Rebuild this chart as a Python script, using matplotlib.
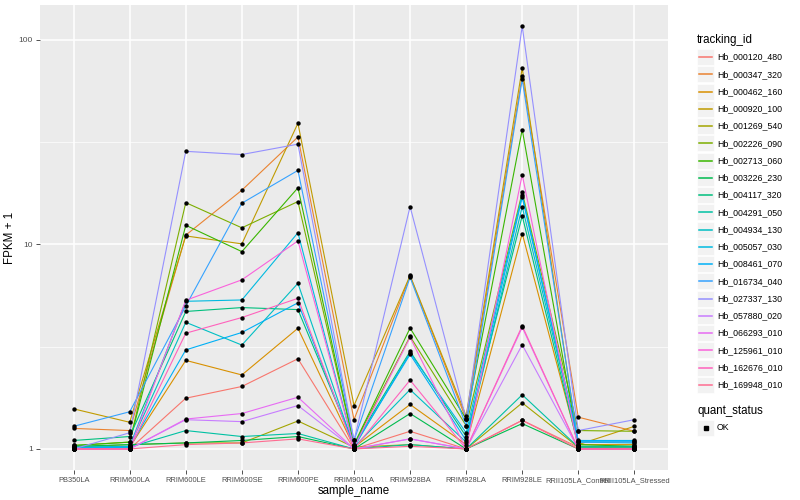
import matplotlib.pyplot as plt
from matplotlib.patches import Rectangle
from matplotlib.lines import Line2D

samples = ["PB350LA", "RRIM600LA", "RRIM600LE", "RRIM600SE", "RRIM600PE", "RRIM901LA",
           "RRIM928BA", "RRIM928LA", "RRIM928LE", "RRII105LA_Control", "RRII105LA_Stressed"]

tracking_ids = ["Hb_000120_480", "Hb_000347_320", "Hb_000462_160", "Hb_000920_100", "Hb_001269_540",
                "Hb_002226_090", "Hb_002713_060", "Hb_003226_230", "Hb_004117_320", "Hb_004291_050",
                "Hb_004934_130", "Hb_005057_030", "Hb_008461_070", "Hb_016734_040", "Hb_027337_130",
                "Hb_057880_020", "Hb_066293_010", "Hb_125961_010", "Hb_162676_010", "Hb_169948_010"]

# FPKM + 1 per gene, same order as samples
fpkm = {
    "Hb_000120_480": [1.00, 1.00, 1.77, 2.02, 2.76, 1.00, 1.22, 1.00, 1.38, 1.02, 1.02],
    "Hb_000347_320": [1.26, 1.23, 11.1, 18.4, 33.5, 1.39, 7.00, 1.40, 66.5, 1.43, 1.22],
    "Hb_000462_160": [1.00, 1.02, 2.71, 2.30, 3.89, 1.02, 1.65, 1.05, 11.3, 1.05, 1.05],
    "Hb_000920_100": [1.57, 1.35, 11.0, 10.06, 39.1, 1.63, 7.05, 1.45, 72.8, 1.05, 1.29],
    "Hb_001269_540": [1.02, 1.05, 1.07, 1.07, 1.37, 1.02, 1.05, 1.00, 1.68, 1.02, 1.02],
    "Hb_002226_090": [1.04, 1.08, 16.0, 12.05, 16.2, 1.05, 3.55, 1.30, 18.0, 1.23, 1.22],
    "Hb_002713_060": [1.04, 1.08, 12.4, 9.22, 18.9, 1.05, 3.90, 1.40, 36.4, 1.05, 1.03],
    "Hb_003226_230": [1.03, 1.05, 1.07, 1.10, 1.15, 1.00, 1.49, 1.00, 1.33, 1.00, 1.00],
    "Hb_004117_320": [1.10, 1.15, 4.70, 4.91, 4.80, 1.05, 3.00, 1.15, 13.8, 1.03, 1.03],
    "Hb_004291_050": [1.02, 1.02, 1.23, 1.15, 1.19, 1.00, 1.05, 1.00, 1.84, 1.02, 1.02],
    "Hb_004934_130": [1.02, 1.03, 4.16, 3.22, 6.45, 1.02, 1.95, 1.08, 15.3, 1.08, 1.07],
    "Hb_005057_030": [1.01, 1.03, 5.27, 5.35, 11.4, 1.02, 2.95, 1.20, 17.5, 1.09, 1.09],
    "Hb_008461_070": [1.01, 1.02, 3.05, 3.71, 5.18, 1.03, 2.90, 1.10, 17.0, 1.10, 1.10],
    "Hb_016734_040": [1.29, 1.52, 5.00, 15.9, 23.0, 1.10, 6.90, 1.30, 64.0, 1.08, 1.08],
    "Hb_027337_130": [1.00, 1.20, 28.5, 27.5, 30.9, 1.10, 15.3, 1.40, 116.7, 1.23, 1.39],
    "Hb_057880_020": [1.00, 1.00, 1.39, 1.36, 1.63, 1.00, 1.12, 1.00, 3.23, 1.00, 1.00],
    "Hb_066293_010": [1.00, 1.00, 1.40, 1.49, 1.79, 1.00, 1.12, 1.00, 3.93, 1.00, 1.00],
    "Hb_125961_010": [1.00, 1.00, 5.33, 6.71, 10.4, 1.02, 3.51, 1.00, 21.9, 1.00, 1.00],
    "Hb_162676_010": [1.00, 1.00, 3.68, 4.39, 5.45, 1.00, 2.17, 1.00, 4.00, 1.00, 1.00],
    "Hb_169948_010": [1.00, 1.00, 1.05, 1.07, 1.12, 1.00, 1.03, 1.00, 1.38, 1.00, 1.00],
}

colors = ["#F8766D", "#EA8331", "#D89000", "#C09B00", "#A3A500", "#7CAE00", "#39B600", "#00BB4E",
          "#00BF7D", "#00C1A3", "#00BFC4", "#00BAE0", "#00B0F6", "#35A2FF", "#9590FF", "#C77CFF",
          "#E76BF3", "#FA62DB", "#FF62BC", "#FF6C91"]

plt.rcParams['font.family'] = ['Liberation Sans', 'DejaVu Sans']

W, H = 800, 500
fig = plt.figure(figsize=(8, 5), dpi=100)
ax = fig.add_axes([40 / W, 1 - 470 / H, 628 / W, 465 / H])
ax.set_facecolor("#EBEBEB")

xs = list(range(len(samples)))
for name, col in zip(tracking_ids, colors):
    ax.plot(xs, fpkm[name], color=col, lw=0.8, zorder=2)
for name in tracking_ids:
    ax.scatter(xs, fpkm[name], s=10, color="black", marker="o", zorder=3, linewidths=0)

ax.set_yscale("log")
ax.set_ylim(0.789, 148)
ax.set_xlim(-0.6, len(samples) - 0.4)
ax.set_yticks([1, 10, 100])
ax.set_yticklabels(["1", "10", "100"])
ax.set_yticks([10 ** 0.5, 10 ** 1.5], minor=True)
ax.yaxis.set_minor_formatter(plt.NullFormatter())
ax.set_xticks(xs)
ax.set_xticklabels(samples)

ax.grid(True, which="major", color="white", lw=1.1)
ax.grid(True, which="minor", axis="y", color="white", lw=0.5)
ax.set_axisbelow(True)
for s in ax.spines.values():
    s.set_visible(False)
ax.tick_params(axis="both", which="major", length=3, width=0.6, color="#333333",
               labelsize=5.4, labelcolor="#4D4D4D", pad=2)
ax.tick_params(axis="y", which="major", labelsize=6)
ax.tick_params(axis="y", which="minor", length=0)

ax.set_xlabel("sample_name", fontsize=8.3, labelpad=1)
ax.set_ylabel("FPKM + 1", fontsize=8.3)
ax.yaxis.set_label_coords(-24 / 628, 0.5)

# legend drawn by hand, ggplot style
def fx(px):
    return px / W

def fy(py):
    return 1 - py / H

fig.text(fx(697), fy(40), "tracking_id", fontsize=8.3, va="center", ha="left")
for i, (name, col) in enumerate(zip(tracking_ids, colors)):
    yc = 57 + 17.25 * i
    fig.patches.append(Rectangle((fx(697), fy(yc + 8)), 17 / W, 16 / H, transform=fig.transFigure,
                                 facecolor="#F2F2F2", edgecolor="white", lw=0.5))
    fig.lines.append(Line2D([fx(699), fx(712)], [fy(yc), fy(yc)], transform=fig.transFigure,
                            color=col, lw=1.1))
    fig.text(fx(717), fy(yc), name, fontsize=6.3, va="center", ha="left")

fig.text(fx(697), fy(411), "quant_status", fontsize=8.3, va="center", ha="left")
fig.patches.append(Rectangle((fx(697), fy(428 + 8)), 17 / W, 16 / H, transform=fig.transFigure,
                             facecolor="#F2F2F2", edgecolor="white", lw=0.5))
fig.lines.append(Line2D([fx(705.5)], [fy(428)], transform=fig.transFigure, marker="s",
                        ms=2.6, color="black", lw=0))
fig.text(fx(717), fy(428), "OK", fontsize=6.3, va="center", ha="left")

plt.savefig("out.png", dpi=100)
